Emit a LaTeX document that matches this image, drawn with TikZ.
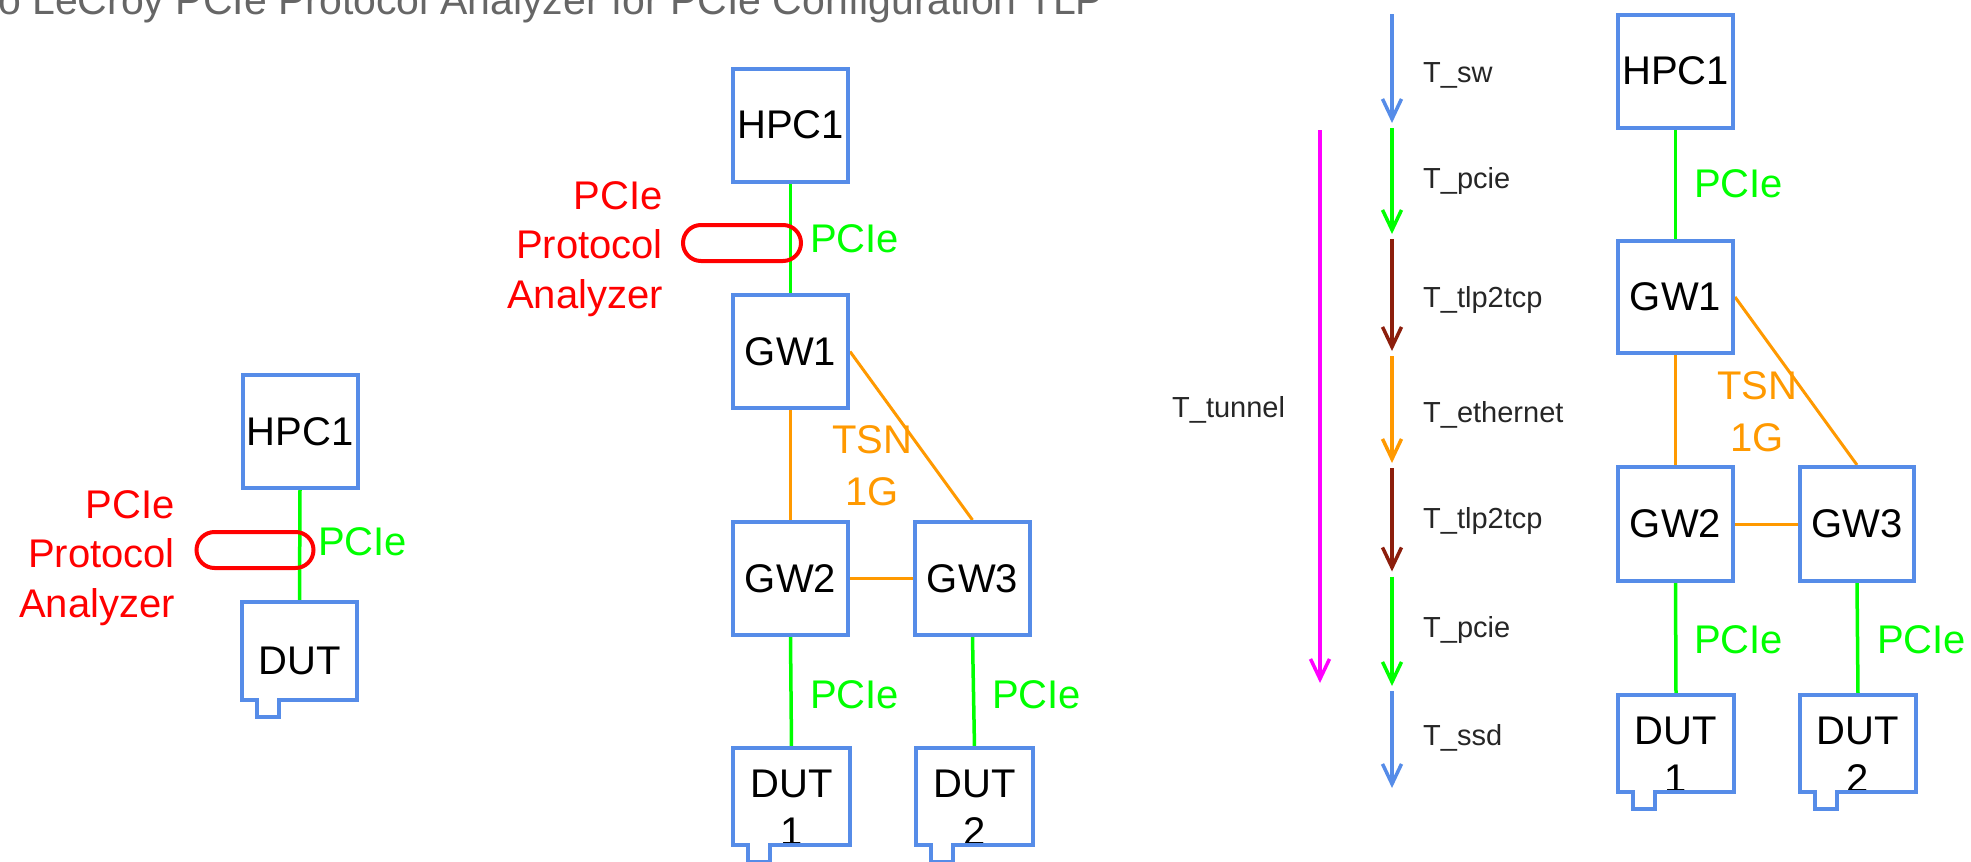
\documentclass[tikz,border=0pt]{standalone}
\usepackage{fontspec}
\setmainfont{Liberation Sans}
\usetikzlibrary{arrows.meta,backgrounds}

\definecolor{boxblue}{RGB}{86,140,232}
\definecolor{pciegreen}{RGB}{0,255,0}
\definecolor{tsnorange}{RGB}{255,153,0}
\definecolor{tlpbrown}{RGB}{140,30,12}
\definecolor{titlegray}{RGB}{102,102,102}
\definecolor{tunnelmag}{RGB}{255,0,255}

% outline of a device card: a box with a small connector tab at the bottom left
\newcommand\dutoutline[1]{%
  \draw[boxedge] ([xshift=15pt]#1.south west) -- (#1.south west) -- (#1.north west)
    -- (#1.north east) -- (#1.south east) -- ([xshift=37pt]#1.south west)
    -- ++(0,17) -- ++(-22,0) -- cycle;}

\tikzset{
  bigfont/.style={font=\fontsize{40}{48}\selectfont},
  hw/.style={rectangle, draw=boxblue, line width=4pt, minimum width=115pt,
    minimum height=113pt, inner sep=0pt, bigfont, text=black},
  dut/.style={rectangle, minimum width=116pt, minimum height=97pt, inner sep=0pt,
    bigfont, align=center, text height=46pt, text depth=0pt, text=black},
  dut2/.style={dut, text height=97pt},
  boxedge/.style={draw=boxblue, line width=4pt, line join=miter},
  pcie/.style={draw=pciegreen, line width=3.5pt},
  tsn/.style={draw=tsnorange, line width=3pt},
  analyzer/.style={rectangle, draw=red, line width=4pt, rounded corners=18pt,
    minimum width=117pt, minimum height=36pt, inner sep=0pt},
  pcielbl/.style={text=pciegreen, bigfont, anchor=base west, inner sep=0pt},
  tsnlbl/.style={text=tsnorange, font=\fontsize{40}{52}\selectfont, align=center,
    anchor=base, inner sep=0pt},
  redlbl/.style={text=red, font=\fontsize{40}{49.5}\selectfont, align=right,
    anchor=base east, inner sep=0pt},
  seg/.style={line width=3.5pt, shorten <=2.5pt, shorten >=2.5pt,
    -{Straight Barb[length=20pt,width=19pt]}},
  seglbl/.style={font=\fontsize{29}{35}\selectfont, anchor=base west,
    inner sep=0pt, text=black!85},
}

\begin{document}
\begin{tikzpicture}[x=1pt,y=-1pt]
\useasboundingbox (0,0) rectangle (1971,862);
\clip (0,0) rectangle (1971,862);

% heading, cut off at the top edge
\node[anchor=base west, inner sep=0pt, text=titlegray,
  font=\fontsize{41}{48}\selectfont] (title) at (-2,14)
  {o LeCroy PCIe Protocol Analyzer for PCIe Configuration TLP};

% ---------- single host with device ----------
\node[hw] (lh) at (300,431.5) {HPC1};
\node[dut, minimum width=115pt, minimum height=98pt] (ld) at (299.5,651) {DUT};
\dutoutline{ld}
\node[analyzer] (lcap) at (255,550) {};
% multi-line labels are placed by the baseline of their last line
\node[redlbl] (lred) at (175,617) {PCIe\\Protocol\\Analyzer};
\node[pcielbl] (lpl) at (318,555) {PCIe};
\begin{scope}[on background layer]
  \draw[pcie] (lh.south) -- (ld.north);
\end{scope}

% ---------- host, gateways and two devices ----------
\node[hw] (mh)  at (790.5,125)   {HPC1};
\node[hw] (mg1) at (790.5,351.5) {GW1};
\node[hw] (mg2) at (790.5,578.5) {GW2};
\node[hw] (mg3) at (972.5,578.5) {GW3};
\node[dut2, minimum width=117pt] (md1) at (791.5,796.5) {DUT\\1};
\node[dut2] (md2) at (974.5,796.5) {DUT\\2};
\dutoutline{md1}
\dutoutline{md2}
\node[analyzer, minimum width=118pt] (mcap) at (742,243) {};
\node[redlbl] (mred) at (663,308) {PCIe\\Protocol\\Analyzer};
\node[pcielbl] (mpl0) at (810,252) {PCIe};
\node[tsnlbl] (mtsn) at (872,505) {TSN\\1G};
\node[pcielbl] (mpl1) at (810,708) {PCIe};
\node[pcielbl] (mpl2) at (992,708) {PCIe};
\begin{scope}[on background layer]
  \draw[pcie] (mh.south) -- (mg1.north);
  \draw[tsn] (mg1.south) -- (mg2.north);
  \draw[tsn] (mg1.east) -- (mg3.north);
  \draw[tsn] (mg2.east) -- (mg3.west);
  \draw[pcie] (mg2.south) -- (md1.north);
  \draw[pcie] (mg3.south) -- (md2.north);
\end{scope}

% ---------- latency breakdown ----------
\coordinate (t0) at (1392,11.5);
\coordinate (t1) at (1392,125.5);
\coordinate (t2) at (1392,236.5);
\coordinate (t3) at (1392,353.5);
\coordinate (t4) at (1392,465.5);
\coordinate (t5) at (1392,574);
\coordinate (t6) at (1392,688.5);
\coordinate (t7) at (1392,790.5);
\draw[seg, boxblue]    (t0) -- (t1);
\draw[seg, pciegreen]  (t1) -- (t2);
\draw[seg, tlpbrown]   (t2) -- (t3);
\draw[seg, tsnorange]  (t3) -- (t4);
\draw[seg, tlpbrown]   (t4) -- (t5);
\draw[seg, pciegreen]  (t5) -- (t6);
\draw[seg, boxblue]    (t6) -- (t7);
\node[seglbl] (lsw)   at (1423,82)  {T\_sw};
\node[seglbl] (lpc1)  at (1423,188) {T\_pcie};
\node[seglbl] (ltl1)  at (1423,307) {T\_tlp2tcp};
\node[seglbl] (leth)  at (1423,422) {T\_ethernet};
\node[seglbl] (ltl2)  at (1423,528) {T\_tlp2tcp};
\node[seglbl] (lpc2)  at (1423,637) {T\_pcie};
\node[seglbl] (lssd)  at (1423,745) {T\_ssd};

\coordinate (u0) at (1320,130);
\coordinate (u1) at (1320,685.5);
\draw[seg, tunnelmag, shorten <=0pt] (u0) -- (u1);
\node[seglbl] (ltun) at (1172,417) {T\_tunnel};

% ---------- same topology, annotated ----------
\node[hw] (rh)  at (1675.5,71)  {HPC1};
\node[hw, minimum height=112pt] (rg1) at (1675.5,297) {GW1};
\node[hw, minimum height=114pt] (rg2) at (1675.5,524) {GW2};
\node[hw, minimum width=114pt, minimum height=114pt] (rg3) at (1857,524) {GW3};
\node[dut2] (rd1) at (1676,743.5) {DUT\\1};
\node[dut2] (rd2) at (1858,743.5) {DUT\\2};
\dutoutline{rd1}
\dutoutline{rd2}
\node[pcielbl] (rpl0) at (1694,197) {PCIe};
\node[tsnlbl] (rtsn) at (1757,451) {TSN\\1G};
\node[pcielbl] (rpl1) at (1694,653) {PCIe};
\node[pcielbl] (rpl2) at (1877,653) {PCIe};
\begin{scope}[on background layer]
  \draw[pcie] (rh.south) -- (rg1.north);
  \draw[tsn] (rg1.south) -- (rg2.north);
  \draw[tsn] (rg1.east) -- (rg3.north);
  \draw[tsn] (rg2.east) -- (rg3.west);
  \draw[pcie] (rg2.south) -- (rd1.north);
  \draw[pcie] (rg3.south) -- (rd2.north);
\end{scope}
\end{tikzpicture}
\end{document}
